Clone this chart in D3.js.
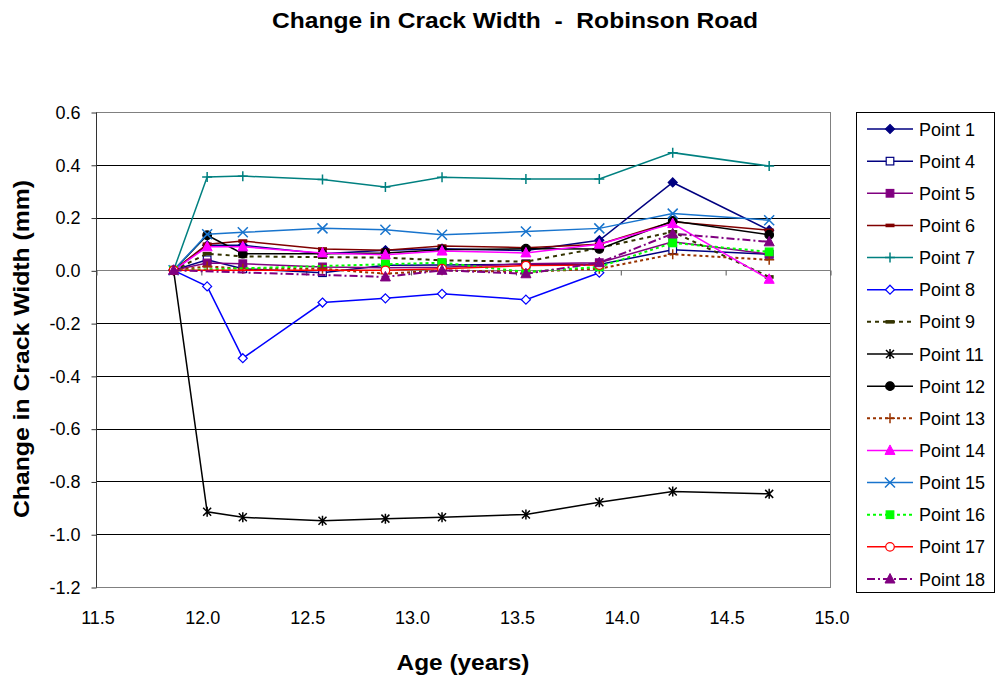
<!DOCTYPE html>
<html><head><meta charset="utf-8">
<script src="https://cdn.jsdelivr.net/npm/d3@7"></script>
<style>body{margin:0;background:#fff}svg{display:block;font-family:"Liberation Sans",Arial,sans-serif}</style>
</head><body><svg id="c" width="997" height="678"></svg>
<script>
const ages = [11.87, 12.03, 12.2, 12.58, 12.88, 13.15, 13.55, 13.9, 14.25, 14.71];
const seriesNames = ["Point 1","Point 4","Point 5","Point 6","Point 7","Point 8","Point 9","Point 11","Point 12","Point 13","Point 14","Point 15","Point 16","Point 17","Point 18"];
const p1  = [0, 0.095, 0.095, 0.063, 0.076, 0.082, 0.075, 0.114, 0.333, 0.152];
const p4  = [0, 0.040, 0.006, -0.009, 0.019, 0.020, 0.023, 0.022, 0.078, 0.061];
const p5  = [0, 0.028, 0.025, 0.013, 0.010, 0.012, 0.025, 0.029, 0.108, 0.061];
const p6  = [0, 0.099, 0.111, 0.081, 0.076, 0.092, 0.086, 0.099, 0.184, 0.152];
const p7  = [0, 0.354, 0.357, 0.344, 0.316, 0.353, 0.346, 0.346, 0.446, 0.395];
const p8  = [0, -0.061, -0.333, -0.122, -0.106, -0.089, -0.111, -0.009, null, null];
const p9  = [0, 0.063, 0.053, 0.050, 0.048, 0.038, 0.033, 0.085, 0.146, -0.025];
const p11 = [0, -0.915, -0.936, -0.949, -0.941, -0.936, -0.925, -0.879, -0.838, -0.847];
const p12 = [0, 0.133, 0.063, 0.063, 0.066, 0.078, 0.082, 0.081, 0.187, 0.135];
const p13 = [0, 0.015, 0.006, 0.006, -0.013, 0.000, -0.006, 0.006, 0.061, 0.040];
const p14 = [0, 0.089, 0.089, 0.066, 0.059, 0.073, 0.066, 0.099, 0.177, -0.034];
const p15 = [0, 0.137, 0.144, 0.159, 0.154, 0.135, 0.147, 0.159, 0.215, 0.190];
const p16 = [0, null, null, null, 0.023, 0.029, -0.006, 0.013, 0.104, 0.070];
const p17 = [0, null, null, null, 0.000, 0.006, 0.018, 0.020, null, null];
const p18 = [0, null, null, null, -0.025, 0.000, -0.013, 0.029, 0.139, 0.108];
const seriesValues = [p1,p4,p5,p6,p7,p8,p9,p11,p12,p13,p14,p15,p16,p17,p18];
const xTicks = [11.5, 12.0, 12.5, 13.0, 13.5, 14.0, 14.5, 15.0];
const yTicks = [0.6, 0.4, 0.2, 0.0, -0.2, -0.4, -0.6, -0.8, -1.0, -1.2];

const styles = [
  {c:"#000080", dash:null, m:"diamond", fill:true},
  {c:"#000080", dash:null, m:"square", fill:false},
  {c:"#800080", dash:null, m:"square", fill:true},
  {c:"#800000", dash:null, m:"bar", fill:true},
  {c:"#008080", dash:null, m:"plus", fill:false},
  {c:"#0000FF", dash:null, m:"diamond", fill:false},
  {c:"#333300", dash:"4,4", m:"bar", fill:true},
  {c:"#000000", dash:null, m:"star", fill:false},
  {c:"#000000", dash:null, m:"circle", fill:true},
  {c:"#993300", dash:"3,3", m:"plus", fill:false},
  {c:"#FF00FF", dash:null, m:"triangle", fill:true},
  {c:"#1874CD", dash:null, m:"cross", fill:false},
  {c:"#00FF00", dash:"3,3", m:"square", fill:true},
  {c:"#FF0000", dash:null, m:"circle", fill:false},
  {c:"#800080", dash:"8,3,2,3", m:"triangle", fill:true}
];

const svg = d3.select("#c");
const x = d3.scaleLinear().domain([11.5, 15]).range([96, 830]);
const y = d3.scaleLinear().domain([-1.2, 0.6]).range([587, 112]);

// gridlines
svg.append("g").selectAll("line").data(yTicks).join("line")
  .attr("x1", 96).attr("x2", 830)
  .attr("y1", d => Math.round(y(d)) + 0.5).attr("y2", d => Math.round(y(d)) + 0.5)
  .attr("stroke", d => d === 0 ? "#808080" : "#000").attr("stroke-width", 1);
// plot border
svg.append("rect").attr("x", 96.5).attr("y", 112.5).attr("width", 734).attr("height", 475)
  .attr("fill", "none").attr("stroke", "#808080");

// y axis
const yAxis = svg.append("g").attr("transform", "translate(96.5,0.5)")
  .call(d3.axisLeft(y).tickValues(yTicks).tickSize(5).tickPadding(11));
yAxis.select(".domain").attr("stroke", "#333").attr("d", "M0," + y(0.6) + "V" + y(-1.2));
yAxis.selectAll(".tick line").attr("stroke", "#333");
yAxis.selectAll("text").attr("font-size", 18).attr("fill", "#000").attr("font-family", "Liberation Sans, Arial, sans-serif")
  .text(d => d.toFixed(1).replace("−", "-"));

// x axis ticks at zero line
const xAxis = svg.append("g").attr("transform", "translate(0.5," + (Math.round(y(0)) + 0.5) + ")")
  .call(d3.axisBottom(x).tickValues(xTicks).tickSize(5).tickFormat(""));
xAxis.select(".domain").remove();
xAxis.selectAll(".tick line").attr("stroke", "#555");
// x tick labels at bottom
svg.append("g").selectAll("text").data(xTicks).join("text")
  .attr("x", d => x(d) + 2).attr("y", 624).attr("text-anchor", "middle")
  .attr("font-size", 18).text(d => d.toFixed(1));

function marker(g, s, cx, cy) {
  const sw = 1.2;
  const fillC = s.fill ? s.c : "#fff";
  switch (s.m) {
    case "diamond":
      g.append("path").attr("d", `M${cx},${cy-4.5}L${cx+4.5},${cy}L${cx},${cy+4.5}L${cx-4.5},${cy}Z`)
        .attr("fill", fillC).attr("stroke", s.c).attr("stroke-width", sw); break;
    case "square":
      g.append("rect").attr("x", cx-3.8).attr("y", cy-3.8).attr("width", 7.6).attr("height", 7.6)
        .attr("fill", fillC).attr("stroke", s.c).attr("stroke-width", sw); break;
    case "bar":
      g.append("rect").attr("x", cx-4.5).attr("y", cy-1.8).attr("width", 9).attr("height", 3.6)
        .attr("fill", s.c); break;
    case "plus":
      g.append("path").attr("d", `M${cx-5},${cy}H${cx+5}M${cx},${cy-5}V${cy+5}`)
        .attr("stroke", s.c).attr("stroke-width", 1.5).attr("fill", "none"); break;
    case "cross":
      g.append("path").attr("d", `M${cx-5},${cy-5}L${cx+5},${cy+5}M${cx-5},${cy+5}L${cx+5},${cy-5}`)
        .attr("stroke", s.c).attr("stroke-width", 1.5).attr("fill", "none"); break;
    case "star":
      g.append("path").attr("d", `M${cx-4},${cy-4}L${cx+4},${cy+4}M${cx-4},${cy+4}L${cx+4},${cy-4}M${cx},${cy-5}V${cy+5}`)
        .attr("stroke", s.c).attr("stroke-width", 1.5).attr("fill", "none"); break;
    case "circle":
      g.append("circle").attr("cx", cx).attr("cy", cy).attr("r", 4.3)
        .attr("fill", fillC).attr("stroke", s.c).attr("stroke-width", sw); break;
    case "triangle":
      g.append("path").attr("d", `M${cx},${cy-5.5}L${cx+5},${cy+4}L${cx-5},${cy+4}Z`)
        .attr("fill", fillC).attr("stroke", s.c).attr("stroke-width", 1); break;
  }
}

const line = d3.line().x(d => x(d[0])).y(d => y(d[1]));
const plot = svg.append("g");
seriesValues.forEach((vals, i) => {
  const s = styles[i];
  const pts = ages.map((a, j) => [a, vals[j]]).filter(d => d[1] !== null);
  const g = plot.append("g");
  g.append("path").attr("d", line(pts)).attr("fill", "none").attr("stroke", s.c)
    .attr("stroke-width", s.dash ? 2 : 1.5).attr("stroke-dasharray", s.dash);
  pts.forEach(p => marker(g, s, x(p[0]), y(p[1])));
});

// legend
const lg = svg.append("g");
lg.append("rect").attr("x", 856.5).attr("y", 112.5).attr("width", 138).attr("height", 480)
  .attr("fill", "#fff").attr("stroke", "#000");
const ly = d3.scalePoint().domain(seriesNames).range([129, 579]);
seriesNames.forEach((n, i) => {
  const s = styles[i];
  const yy = ly(n);
  lg.append("line").attr("x1", 867).attr("x2", 913).attr("y1", yy).attr("y2", yy)
    .attr("stroke", s.c).attr("stroke-width", s.dash ? 2 : 1.5).attr("stroke-dasharray", s.dash);
  marker(lg, s, 890, yy);
  lg.append("text").attr("x", 919).attr("y", yy + 6.5).attr("font-size", 18).text(n);
});

// titles
svg.append("text").attr("x", 515).attr("y", 28).attr("text-anchor", "middle")
  .attr("font-size", 22).attr("font-weight", "bold").style("white-space", "pre")
  .attr("textLength", 486).attr("lengthAdjust", "spacingAndGlyphs")
  .text("Change in Crack Width  -  Robinson Road");
svg.append("text").attr("x", 463).attr("y", 670).attr("text-anchor", "middle")
  .attr("font-size", 22).attr("font-weight", "bold")
  .attr("textLength", 133).attr("lengthAdjust", "spacingAndGlyphs").text("Age (years)");
svg.append("text").attr("transform", "translate(29,349) rotate(-90)").attr("text-anchor", "middle")
  .attr("font-size", 22).attr("font-weight", "bold")
  .attr("textLength", 338).attr("lengthAdjust", "spacingAndGlyphs").text("Change in Crack Width (mm)");
</script></body></html>
